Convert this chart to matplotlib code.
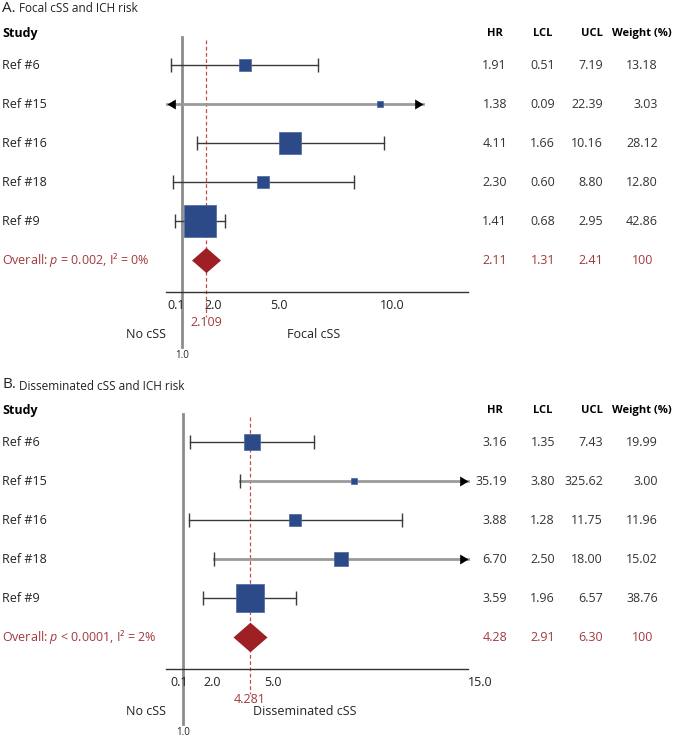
import matplotlib
matplotlib.use("Agg")
import matplotlib.pyplot as plt
from matplotlib.path import Path
from matplotlib.transforms import blended_transform_factory

plt.rcParams['font.family'] = ['Open Sans', 'DejaVu Sans']
plt.rcParams['mathtext.fontset'] = 'custom'
plt.rcParams['mathtext.rm'] = 'Open Sans'
plt.rcParams['mathtext.it'] = 'Open Sans:italic'

# ---- data ----
studies = ["Ref #6", "Ref #15", "Ref #16", "Ref #18", "Ref #9"]

hr_a = [1.91, 1.38, 4.11, 2.30, 1.41]
lcl_a = [0.51, 0.09, 1.66, 0.60, 0.68]
ucl_a = [7.19, 22.39, 10.16, 8.80, 2.95]
weight_a = [13.18, 3.03, 28.12, 12.80, 42.86]
box_a = [3.85, 10.0, 5.91, 4.70, 1.82]       # box positions as drawn in the figure
overall_a = [2.11, 1.31, 2.41, 100]
pooled_a = 2.109
ticks_a = [0.1, 2.0, 5.0, 10.0]

hr_b = [3.16, 35.19, 3.88, 6.70, 3.59]
lcl_b = [1.35, 3.80, 1.28, 2.50, 1.96]
ucl_b = [7.43, 325.62, 11.75, 18.00, 6.57]
weight_b = [19.99, 3.00, 11.96, 15.02, 38.76]
box_b = [4.39, 9.40, 6.52, 8.75, 4.27]
overall_b = [4.28, 2.91, 6.30, 100]
pooled_b = 4.281
ticks_b = [0.1, 2.0, 5.0, 15.0]

NAVY = "#2C4A87"
RED = "#9E1F24"
RED_TXT = "#A23A3D"
DARK = "#3A3A3A"

W, H = 675, 739
fig = plt.figure(figsize=(W / 100, H / 100), dpi=100)

ROW_PX = 39.0
R_TOP = -0.72
R_AXIS = 5.82

left_arrow = Path([(0, 0), (1, 0.6), (1, -0.6), (0, 0)])
right_arrow = Path([(0, 0), (-1, 0.6), (-1, -0.6), (0, 0)])
diamond = Path([(0, 1), (1.15, 0), (0, -1), (-1.15, 0), (0, 1)])


def fmt(v):
    return f"{v:.2f}"


def draw_panel(top_px, x0_px, px_per_unit, letter, title, hr, lcl, ucl, weight,
               box, overall, pooled, ticks, clip, axis_span, right_label, stat_text, dia_px):
    ax_h = (R_AXIS - R_TOP) * ROW_PX
    ax_w = 15 * px_per_unit
    ax = fig.add_axes([x0_px / W, 1 - (top_px + ax_h) / H, ax_w / W, ax_h / H])
    ax.set_xlim(0, 15)
    ax.set_ylim(R_AXIS, R_TOP)
    for s in ["top", "left", "right"]:
        ax.spines[s].set_visible(False)
    ax.spines["bottom"].set_bounds(*axis_span)
    ax.spines["bottom"].set_color("#333333")
    ax.spines["bottom"].set_linewidth(1)
    ax.set_xticks([])
    ax.set_yticks([])
    ax.patch.set_alpha(0)

    rows = list(range(len(hr)))
    below = lambda px: R_AXIS + px / ROW_PX

    # reference line at 1 and pooled estimate line
    ax.plot([1, 1], [R_TOP, below(55)], color="#8C8C8C", lw=2, clip_on=False, zorder=1)
    ax.plot([pooled, pooled], [R_TOP + 0.08, below(25)], color="#C0504D", lw=0.9,
            ls=(0, (3, 2)), clip_on=False, zorder=1)

    for r in rows:
        lo = max(lcl[r], clip[0])
        hi = min(ucl[r], clip[1])
        arrowed = lcl[r] < clip[0] or ucl[r] > clip[1]
        ax.plot([lo, hi], [r, r], color="#9A9A9A" if arrowed else DARK,
                lw=2 if arrowed else 1, zorder=2, clip_on=False)
        if lcl[r] < clip[0]:
            ax.plot(lo, r, marker=left_arrow, ms=12, color="black", mew=0, zorder=3, clip_on=False)
        else:
            ax.plot(lo, r, marker="|", ms=10, color=DARK, mew=1, zorder=3)
        if ucl[r] > clip[1]:
            ax.plot(hi, r, marker=right_arrow, ms=12, color="black", mew=0, zorder=3, clip_on=False)
        else:
            ax.plot(hi, r, marker="|", ms=10, color=DARK, mew=1, zorder=3)
        side = (4 + 0.64 * weight[r]) * 0.72
        ax.plot(box[r], r, marker="s", ms=side, color=NAVY, mec="#4A64A0", mew=0.5, zorder=4)

    n = len(hr)
    ax.plot(pooled, n, marker=diamond, ms=dia_px * 0.72, color=RED, mew=0, zorder=4,
            clip_on=False)

    # tick labels and captions under the axis
    for t in ticks:
        ox = 5 if t < 1 else 0
        ax.annotate(f"{t:.1f}", xy=(t, R_AXIS), xytext=(ox, -13), textcoords="offset pixels",
                    ha="left", va="center", fontsize=9, color="#222222", annotation_clip=False)
    ax.annotate(f"{pooled:.3f}", xy=(pooled, R_AXIS), xytext=(0, -30), textcoords="offset pixels",
                ha="center", va="center", fontsize=9, color=RED_TXT, annotation_clip=False)
    ax.annotate("No cSS", xy=(axis_span[0], R_AXIS), xytext=(0, -42), textcoords="offset pixels",
                ha="right", va="center", fontsize=9, color="#222222", annotation_clip=False)
    ax.annotate(right_label, xy=(7.0, R_AXIS), xytext=(0, -42), textcoords="offset pixels",
                ha="center", va="center", fontsize=9, color="#222222", annotation_clip=False)
    ax.annotate("1.0", xy=(1.0, R_AXIS), xytext=(0, -63), textcoords="offset pixels",
                ha="center", va="center", fontsize=7, color="#222222", annotation_clip=False)

    # table columns
    tr = blended_transform_factory(fig.transFigure, ax.transData)
    hdr_y = R_TOP - 0.1
    ax.text(2 / W, hdr_y, "Study", transform=tr, fontsize=9, fontweight="bold",
            ha="left", va="center", clip_on=False)
    col_x = [507, 555, 603, 658]
    headers = ["HR", "LCL", "UCL", "Weight (%)"]
    hdr_x = [487, 533, 603, 672]
    hdr_ha = ["left", "left", "right", "right"]
    for hx, h, ha in zip(hdr_x, headers, hdr_ha):
        ax.text(hx / W, hdr_y, h, transform=tr, fontsize=8, fontweight="bold",
                ha=ha, va="center", clip_on=False)
    for r in rows:
        ax.text(2 / W, r, studies[r], transform=tr, fontsize=9, ha="left", va="center",
                color="#222222", clip_on=False)
        vals = [fmt(hr[r]), fmt(lcl[r]), fmt(ucl[r]), fmt(weight[r])]
        for cx, v in zip(col_x, vals):
            ax.text(cx / W, r, v, transform=tr, fontsize=9, ha="right", va="center",
                    color="#333333", clip_on=False)
    ax.text(2 / W, n, stat_text, transform=tr, fontsize=9, ha="left", va="center",
            color=RED_TXT, clip_on=False)
    ov = [fmt(overall[0]), fmt(overall[1]), fmt(overall[2]), str(overall[3])]
    for cx, v in zip(col_x, ov):
        ax.text((cx - (5 if v == "100" else 0)) / W, n, v, transform=tr, fontsize=9,
                ha="right", va="center", color=RED_TXT, clip_on=False)

    # panel title
    ty = top_px - 29
    fig.text(2 / W, 1 - ty / H, letter, fontsize=11, ha="left", va="center", color="#222222")
    fig.text(19 / W, 1 - (ty + 1) / H, title, fontsize=8.5, ha="left", va="center", color="#222222")


draw_panel(37, 160, 22.0, "A.", "Focal cSS and ICH risk", hr_a, lcl_a, ucl_a, weight_a,
           box_a, overall_a, pooled_a, ticks_a, (0.32, 11.95), (0.27, 14.0), "Focal cSS",
           r"Overall: $\it{p}$ = 0.002, I² = 0%", 29)
draw_panel(414, 163, 20.3, "B.", "Disseminated cSS and ICH risk", hr_b, lcl_b, ucl_b, weight_b,
           box_b, overall_b, pooled_b, ticks_b, (0.1, 15.0), (0.15, 15.0), "Disseminated cSS",
           r"Overall: $\it{p}$ < 0.0001, I² = 2%", 34)

fig.savefig("out.png", dpi=100)
